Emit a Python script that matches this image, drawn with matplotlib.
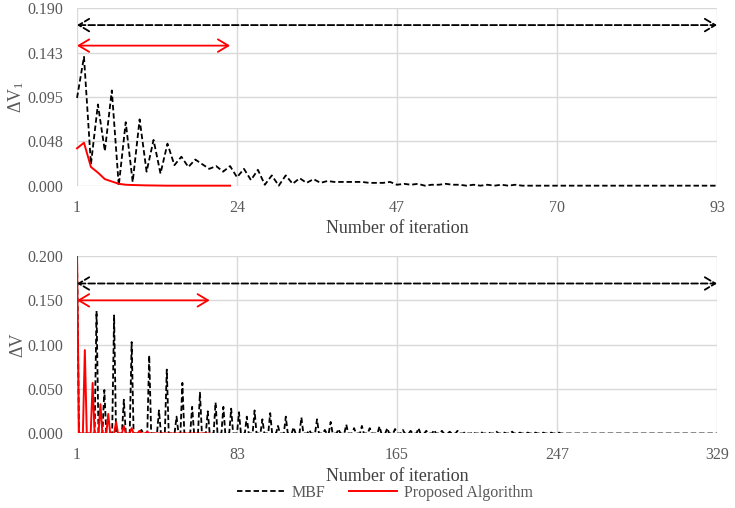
import numpy as np
import matplotlib
matplotlib.use("Agg")
import matplotlib.pyplot as plt
from matplotlib.lines import Line2D

plt.rcParams["font.family"] = ["Liberation Serif", "DejaVu Serif"]
plt.rcParams["mathtext.fontset"] = "custom"
plt.rcParams["mathtext.rm"] = "Liberation Serif"
plt.rcParams["mathtext.it"] = "Liberation Serif:italic"

# ---- top panel: dV1 per iteration ----
top_xticks = [1, 24, 47, 70, 93]
top_yticks = [0.0, 0.0475, 0.095, 0.1425, 0.19]
top_yticklabels = ["0.000", "0.048", "0.095", "0.143", "0.190"]

mbf_top = [0.094, 0.138, 0.023, 0.087, 0.037, 0.102, 0.000, 0.068, 0.004, 0.071,
           0.015, 0.049, 0.013, 0.045, 0.022, 0.031, 0.020, 0.028, 0.023, 0.018,
           0.021, 0.015, 0.021, 0.009, 0.018, 0.006, 0.017, 0.001, 0.011, 0.000,
           0.011, 0.002, 0.008, 0.003, 0.007, 0.003, 0.005, 0.004, 0.004, 0.004,
           0.004, 0.004, 0.003, 0.003, 0.003, 0.004, 0.001, 0.002, 0.001, 0.002,
           0.000, 0.001, 0.001, 0.002, 0.001, 0.001, 0.000, 0.001, 0.000, 0.001,
           0.000, 0.001, 0.000, 0.001, 0.000] + [0.0] * 28
prop_top = [0.040, 0.046, 0.020, 0.014, 0.007, 0.0045, 0.002, 0.001, 0.0007, 0.0005,
            0.0003, 0.0002, 0.0001, 0.0, 0.0, 0.0, 0.0, 0.0, 0.0, 0.0,
            0.0, 0.0, 0.0]

# ---- bottom panel: dV per iteration (spikes, zero between them) ----
bot_xticks = [1, 83, 165, 247, 329]
bot_yticks = [0.0, 0.05, 0.10, 0.15, 0.20]
bot_yticklabels = ["0.000", "0.050", "0.100", "0.150", "0.200"]

mbf_peak_iter = [1, 11, 15, 20, 25, 29, 34, 38, 43, 47, 52, 55, 60, 64, 68, 72, 76,
                 80, 84, 88, 92, 96, 100, 104, 108, 112, 116, 120, 124, 128, 131,
                 135, 139, 143, 147, 151, 156, 160, 164, 168, 172, 176, 180, 184,
                 188, 192, 196, 200, 204, 208, 212, 216, 220, 224, 228, 232, 236,
                 240, 244, 248]
mbf_peak_val = [0.2, 0.138, 0.049, 0.133, 0.038, 0.103, 0.004, 0.088, 0.026, 0.072,
                0.019, 0.057, 0.030, 0.046, 0.025, 0.035, 0.030, 0.028, 0.024,
                0.019, 0.026, 0.016, 0.023, 0.0085, 0.019, 0.007, 0.018, 0.004,
                0.016, 0.004, 0.013, 0.005, 0.010, 0.006, 0.0085, 0.006, 0.008,
                0.006, 0.005, 0.004, 0.003, 0.006, 0.003, 0.004, 0.003, 0.002,
                0.003, 0.002, 0.002, 0.002, 0.001, 0.002, 0.001, 0.002, 0.001,
                0.001, 0.001, 0.001, 0.001, 0.001]
mbf_bot_len = 329

prop_peak_iter = [1, 5, 9, 13, 17, 21, 25, 29, 33, 37]
prop_peak_val = [0.2, 0.094, 0.057, 0.033, 0.022, 0.013, 0.0085, 0.006, 0.003, 0.002]
prop_bot_len = 69

mbf_bot = np.zeros(mbf_bot_len)
mbf_bot[np.array(mbf_peak_iter) - 1] = mbf_peak_val
prop_bot = np.zeros(prop_bot_len)
prop_bot[np.array(prop_peak_iter) - 1] = prop_peak_val

tick_col = "#595959"
grid_col = "#d9d9d9"
dash = (0, (3.0, 1.6))

fig = plt.figure(figsize=(7.35, 5.08), dpi=100)
ax1 = fig.add_axes([0.1048, 0.6345, 0.8707, 0.3492])
ax2 = fig.add_axes([0.1048, 0.1467, 0.8707, 0.3494])


def style_axis(ax, xticks, yticks, yticklabels, xmax, ymax):
    ax.set_xlim(1, xmax)
    ax.set_ylim(0, ymax)
    ax.set_xticks(xticks)
    ax.set_yticks(yticks)
    ax.set_yticklabels(yticklabels)
    for s in ax.spines.values():
        s.set_visible(False)
    ax.grid(True, color=grid_col, linewidth=1.0)
    ax.set_axisbelow(True)
    ax.tick_params(length=0, labelsize=11.5, colors=tick_col)
    ax.tick_params(axis="x", pad=10)
    ax.tick_params(axis="y", pad=10)
    ax.set_xlabel("Number of iteration", fontsize=13, color="#404040", labelpad=3)


def double_arrow(ax, x0, x1, y, color, ls):
    ax.annotate("", xy=(x1, y), xytext=(x0, y),
                arrowprops=dict(arrowstyle="<->,head_length=0.75,head_width=0.45",
                                color=color, lw=1.3, ls=ls,
                                shrinkA=0, shrinkB=0),
                annotation_clip=False)


# top
it_top = np.arange(1, len(mbf_top) + 1)
ax1.plot(it_top, mbf_top, color="black", lw=1.3, ls=dash, clip_on=False)
ax1.plot(np.arange(1, len(prop_top) + 1), prop_top, color="red", lw=1.4, clip_on=False)
style_axis(ax1, top_xticks, top_yticks, top_yticklabels, 93, 0.19)
ax1.set_ylabel(r"ΔV$_1$", fontsize=13, color=tick_col, labelpad=1)
double_arrow(ax1, 1, 93, 0.172, "black", "--")
double_arrow(ax1, 1, 23, 0.150, "red", "-")

# bottom
ax2.plot(np.arange(1, mbf_bot_len + 1), mbf_bot, color="black", lw=1.3, ls=dash)
ax2.plot(np.arange(1, prop_bot_len + 1), prop_bot, color="red", lw=1.4)
style_axis(ax2, bot_xticks, bot_yticks, bot_yticklabels, 329, 0.2)
ax2.set_ylabel("ΔV", fontsize=13, color=tick_col, labelpad=1)
double_arrow(ax2, 1, 329, 0.169, "black", "--")
double_arrow(ax2, 1, 69, 0.150, "red", "-")

handles = [Line2D([], [], color="black", lw=1.3, ls=dash),
           Line2D([], [], color="red", lw=1.4)]
fig.legend(handles, ["MBF", "Proposed Algorithm"], loc="center",
           bbox_to_anchor=(385 / 735, 1 - 493 / 508), ncol=2, frameon=False,
           fontsize=11.5, labelcolor=tick_col, handlelength=3.0, columnspacing=1.5,
           handletextpad=0.4)

fig.savefig("out.png", dpi=100)
